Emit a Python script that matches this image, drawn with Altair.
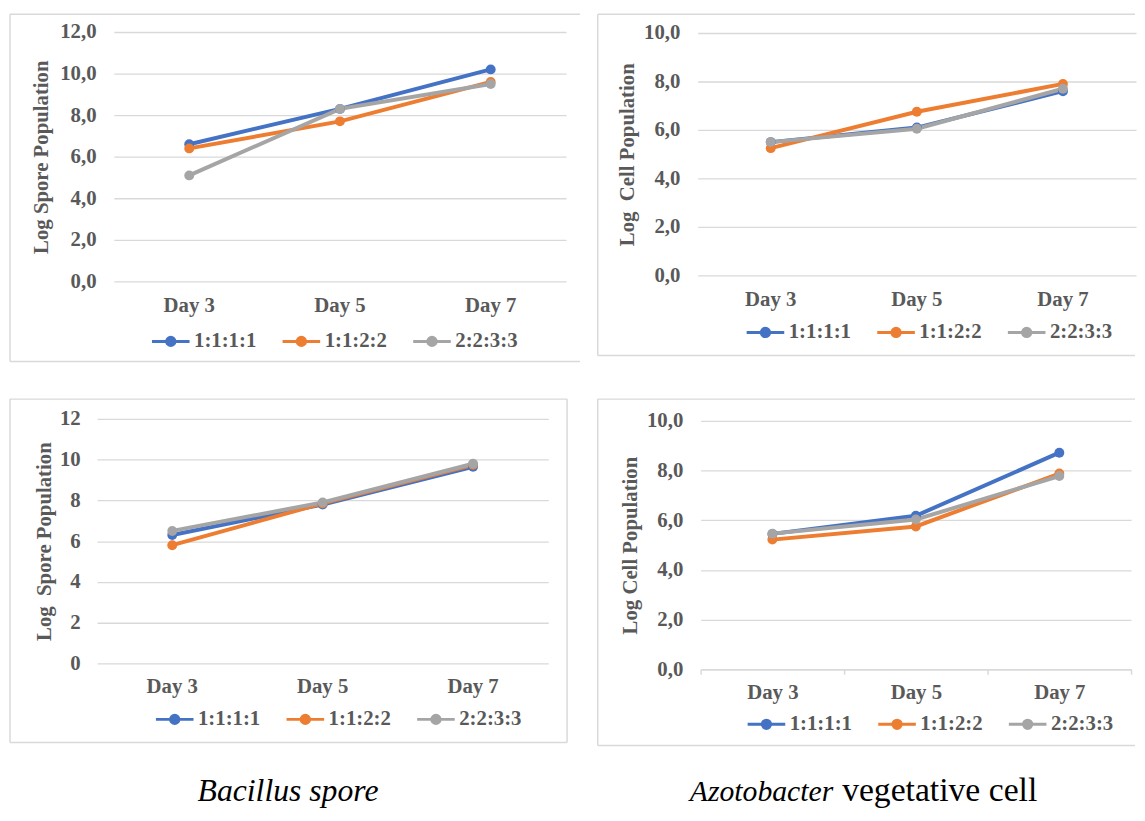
import altair as alt
import pandas as pd

days = ["Day 3", "Day 5", "Day 7"]
series = ["1:1:1:1", "1:1:2:2", "2:2:3:3"]
colors = ["#4472C4", "#ED7D31", "#A5A5A5"]

# top-left: Bacillus spore (first experiment)
tl_s1 = [6.6, 8.3, 10.2]
tl_s2 = [6.4, 7.7, 9.6]
tl_s3 = [5.1, 8.3, 9.5]
# top-right: Azotobacter vegetative cell (first experiment)
tr_s1 = [5.5, 6.1, 7.6]
tr_s2 = [5.25, 6.75, 7.9]
tr_s3 = [5.5, 6.05, 7.7]
# bottom-left: Bacillus spore (second experiment)
bl_s1 = [6.3, 7.8, 9.65]
bl_s2 = [5.8, 7.85, 9.75]
bl_s3 = [6.5, 7.9, 9.8]
# bottom-right: Azotobacter vegetative cell (second experiment)
br_s1 = [5.45, 6.18, 8.72]
br_s2 = [5.22, 5.75, 7.88]
br_s3 = [5.46, 6.03, 7.78]

FONT = "Liberation Serif"
TXT = "#595959"
GRID = "#d9d9d9"

LEG_PATH = "M-1,0H1M-0.22,0A0.22,0.22 0 1,1 0.22,0A0.22,0.22 0 1,1 -0.22,0Z"


def long_df(s1, s2, s3):
    rows = []
    for name, vals in zip(series, [s1, s2, s3]):
        for d, v in zip(days, vals):
            rows.append({"day": d, "series": name, "value": v})
    return pd.DataFrame(rows)


dummy = pd.DataFrame({"a": [0]})


def hrule(x1, x2, y):
    return alt.Chart(dummy).mark_rule(color=GRID, strokeWidth=1.5).encode(
        x=alt.value(x1), x2=alt.value(x2), y=alt.value(y))


def vrule(x, y1, y2):
    return alt.Chart(dummy).mark_rule(color=GRID, strokeWidth=1.5).encode(
        x=alt.value(x), y=alt.value(y1), y2=alt.value(y2))


def panel(vals, ymax, yfmt, ytitle, w, h, xr, yr, ylabpad, title_x,
          leg_x, leg_y, box, right_edge, ticks_on, xlabpad, captions=()):
    df = long_df(*vals)
    left, top, right, bottom = box
    if yfmt == "comma":
        lab_expr = "replace(format(datum.value, '.1f'), '.', ',')"
    else:
        lab_expr = "format(datum.value, 'd')"
    xaxis_kw = dict(labelAngle=0, labelFont=FONT, labelFontSize=21,
                    labelFontWeight="bold", labelColor=TXT,
                    labelPadding=xlabpad, grid=False, title=None)
    if ticks_on:
        xaxis_kw.update(domain=True, domainColor=GRID, domainWidth=1.5,
                        ticks=True, tickColor=GRID, tickWidth=1.5,
                        tickSize=5, tickBand="extent")
    else:
        xaxis_kw.update(domain=False, ticks=False, tickSize=0)
    x = alt.X("day:N", sort=days, bandPosition=0.5,
              scale=alt.Scale(type="band", paddingInner=0, paddingOuter=0,
                              range=xr),
              axis=alt.Axis(**xaxis_kw))
    y = alt.Y("value:Q",
              scale=alt.Scale(domain=[0, ymax], nice=False, zero=True,
                              range=yr),
              axis=alt.Axis(values=list(range(0, ymax + 1, 2)),
                            labelExpr=lab_expr, labelFont=FONT,
                            labelFontSize=21, labelFontWeight="bold",
                            labelColor=TXT, labelPadding=ylabpad,
                            domain=False, ticks=False, tickSize=0,
                            grid=True, gridColor=GRID, gridWidth=1.3,
                            title=ytitle, titleFont=FONT, titleFontSize=21,
                            titleFontWeight="bold", titleColor=TXT,
                            titleX=title_x, titleY=(yr[0] + yr[1]) / 2,
                            titleAngle=270, titleAlign="center",
                            titleBaseline="middle"))
    legend = alt.Legend(orient="none", legendX=leg_x, legendY=leg_y,
                        direction="horizontal", title=None, padding=0,
                        labelFont=FONT, labelFontSize=21,
                        labelFontWeight="bold", labelColor=TXT,
                        labelOffset=3, columnPadding=20,
                        symbolType=LEG_PATH, symbolSize=1444,
                        symbolStrokeWidth=3)
    color = alt.Color("series:N", scale=alt.Scale(domain=series, range=colors),
                      legend=legend)
    lines = alt.Chart(df).mark_line(strokeWidth=4).encode(
        x=x, y=y, color=color, detail="series:N")
    points = alt.Chart(df).mark_point(filled=True, size=100, opacity=1).encode(
        x=x, y=y, color=color)
    layers = [hrule(left, right, top), vrule(left, top, bottom),
              hrule(left, right, bottom)]
    if right_edge:
        layers.append(vrule(right, top, bottom))
    layers += [lines, points]
    for (txt, cx, cy, align, style, fs) in captions:
        layers.append(alt.Chart(dummy).mark_text(
            text=txt, font=FONT, fontSize=fs, fontStyle=style, color="black",
            align=align, baseline="alphabetic").encode(
            x=alt.value(cx), y=alt.value(cy)))
    return alt.layer(*layers).properties(width=w, height=h)


# column origins: x = 97 (left), 701 (right); row origins: y = 30, 420
tl = panel([tl_s1, tl_s2, tl_s3], 12, "comma", "Log Spore Population",
           474, 252, [17, 474], [252, 0], 1, -56, 54, 292,
           (-88, -18, 488, 333), False, False, 13)
tr = panel([tr_s1, tr_s2, tr_s3], 10, "comma", "Log \u00a0Cell Population",
           443, 246, [0, 443], [246, 1], 18, -71, 48, 283,
           (-101, -18, 442, 327), False, False, 13)
bl = panel([bl_s1, bl_s2, bl_s3], 12, "int", "Log \u00a0Spore Population",
           456, 247, [0, 456], [247, 0], 17, -53, 58, 283,
           (-88, -20, 475, 327), True, False, 13,
           captions=[("Bacillus spore", 193, 386, "center", "italic", 32)])
br = panel([br_s1, br_s2, br_s3], 10, "comma", "Log Cell Population",
           438, 253, [3, 438], [253, 2], 15, -68, 49, 288,
           (-101, -20, 442, 330), False, True, 8,
           captions=[("Azotobacter", 137, 386, "right", "italic", 30),
                     ("vegetative cell", 146, 386, "left", "normal", 34)])

chart = alt.concat(tl, tr, bl, br, columns=2).resolve_scale(
    x="independent", y="independent", color="independent").resolve_legend(
    color="independent").properties(
    bounds="full", spacing={"row": 34, "column": 14},
    padding={"left": 0, "top": 0, "right": 0, "bottom": 0},
    background="white").configure(font=FONT).configure_view(
    stroke="transparent")

chart.save("out.html", embed_options={"renderer": "svg", "actions": False})
